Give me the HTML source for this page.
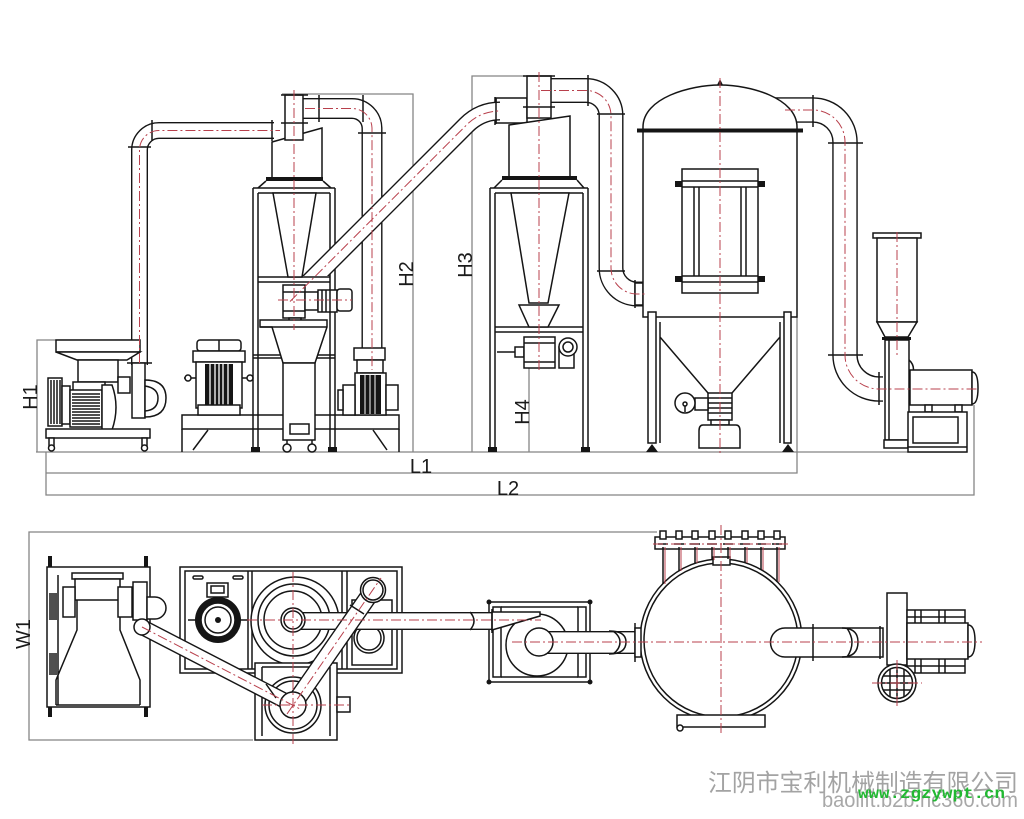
<!DOCTYPE html>
<html><head><meta charset="utf-8"><style>
html,body{margin:0;padding:0;background:#fff}
svg{display:block}
.k{fill:none;stroke:#151515;stroke-width:1.5}
.w{fill:#fff;stroke:#151515;stroke-width:1.5}
.b{fill:#151515;stroke:none}
.d{fill:none;stroke:#858585;stroke-width:1.3}
.c{fill:none;stroke:#b8404c;stroke-width:1;stroke-dasharray:10 3 2 3}
.t{font-family:"Liberation Sans",sans-serif;font-size:20px;fill:#1a1a1a}
</style></head><body>
<svg width="1024" height="819" viewBox="0 0 1024 819">
<defs><clipPath id="cp"><rect x="0" y="0" width="1024" height="276"/></clipPath></defs>
<rect width="1024" height="819" fill="#fff"/>

<!-- ============ DIMENSIONS ============ -->
<g class="d">
<path d="M140,340 H37 V452"/>
<path d="M282,94 H413 V452"/>
<path d="M525,76 H472 V452"/>
<path d="M529,368 V452"/>
<path d="M36,452 H967"/>
<path d="M46,452 V495 H974 V405"/>
<path d="M46,473 H797 V317"/>
<path d="M657,532 H29 V740 H253"/>
</g>

<!-- ============ ELEVATION PIPES ============ -->
<g fill="none">
<path d="M139.5,365 V150 A19.5 19.5 0 0 1 159,130.5 H274" stroke="#151515" stroke-width="17"/>
<path d="M139.5,365 V150 A19.5 19.5 0 0 1 159,130.5 H274" stroke="#fff" stroke-width="14.2"/>
<path d="M300,108.5 H352 A20 20 0 0 1 372,128.5 V350" stroke="#151515" stroke-width="21"/>
<path d="M300,108.5 H352 A20 20 0 0 1 372,128.5 V350" stroke="#fff" stroke-width="18.2"/>
<path d="M545,90.5 H586 A25 25 0 0 1 611,115.5 V268 A26 26 0 0 0 637,294 H643" stroke="#151515" stroke-width="25"/>
<path d="M545,90.5 H586 A25 25 0 0 1 611,115.5 V268 A26 26 0 0 0 637,294 H643" stroke="#fff" stroke-width="22.2"/>
<path d="M770,110 H813 A32 32 0 0 1 845,142 V355 A34 34 0 0 0 879,389 H883" stroke="#151515" stroke-width="25.5"/>
<path d="M770,110 H813 A32 32 0 0 1 845,142 V355 A34 34 0 0 0 879,389 H883" stroke="#fff" stroke-width="22.7"/>
</g>
<!-- pipe flanges -->
<g class="k" stroke-width="2.2">
<path d="M152,120 V141 M272,120 V141 M128,147 H151 M127,363 H152"/>
<path d="M319,95 V122 M363,95 V122 M358,133 H386"/>
<path d="M588,75 V106 M597,114 H625 M597,271 H625 M635,280 V308"/>
<path d="M813,95 V127 M828,143 H863 M828,355 H863 M879,372 V405"/>
</g>
<rect class="w" x="635" y="283" width="8" height="22"/>

<!-- ============ MACHINE 1 (left feeder mill) ============ -->
<g>
<rect class="w" x="56" y="340" width="84" height="12"/>
<path class="w" d="M56,352 L77,360 H127 L140,352 Z"/>
<rect class="w" x="78" y="360" width="40" height="22"/>
<rect class="w" x="73" y="382" width="32" height="9"/>
<rect class="w" x="48" y="378" width="14" height="48"/>
<path class="k" d="M51,380 V424 M54,380 V424 M57,380 V424 M60,380 V424"/>
<rect class="w" x="62" y="386" width="8" height="38"/>
<rect class="w" x="70" y="390" width="32" height="37"/>
<path class="k" d="M72,394 H100 M72,397 H100 M72,400 H100 M72,403 H100 M72,406 H100 M72,409 H100 M72,412 H100 M72,415 H100 M72,418 H100 M72,421 H100 M72,424 H100"/>
<path class="w" d="M102,385 H112 Q120,407 112,430 H102 Z"/>
<rect class="w" x="118" y="377" width="12" height="16"/>
<rect class="w" x="132" y="363" width="13" height="55"/>
<path class="w" d="M145,380 Q166,380 166,398 Q166,417 145,417 Z"/>
<path class="k" d="M145,386 Q158,388 158,398 Q158,410 145,411"/>
<rect class="w" x="46" y="429" width="104" height="9"/>
<rect class="w" x="49" y="438" width="5" height="8"/><rect class="w" x="142" y="438" width="5" height="8"/>
<circle class="w" cx="51.5" cy="448" r="3"/><circle class="w" cx="144.5" cy="448" r="3"/>
</g>

<!-- ============ MILL BASE + MOTOR ============ -->
<g>
<rect class="w" x="182" y="415" width="217" height="14"/>
<path class="k" d="M182,429 V452 M208,430 L193,450 M399,429 V452 M373,430 L387,450"/>
<rect class="w" x="197" y="340" width="44" height="11" rx="3"/>
<path class="k" d="M219,340 V351"/>
<rect class="w" x="193" y="351" width="52" height="11"/>
<rect class="w" x="196" y="362" width="46" height="46"/>
<rect class="b" x="205" y="364" width="28" height="41"/>
<path d="M210,364 V405 M215,364 V405 M219,364 V405 M223,364 V405 M228,364 V405" stroke="#fff" stroke-width="1.3"/>
<rect class="w" x="198" y="405" width="42" height="10"/>
<path class="k" d="M184,378 H196 M242,378 H253"/>
<circle class="w" cx="188" cy="378" r="3"/><circle class="w" cx="250" cy="378" r="3"/>
</g>

<!-- ============ CYCLONE 1 ============ -->
<g>
<path class="k" d="M253,188 V448 M258,193 V448 M330,193 V448 M335,188 V448 M253,188 H335 M258,193 H330 M258,277 H330 M258,282 H330"/>
<path class="k" d="M253,355 H335 M253,358 H335"/>
<rect class="b" x="251" y="447" width="9" height="5"/><rect class="b" x="328" y="447" width="9" height="5"/>
<path class="w" d="M273,193 H316 L302,277 H288 Z"/>
<path class="w" d="M272,142 L322,128 V179 H272 Z"/>
<rect class="w" x="285" y="95" width="18" height="45"/>
<path class="k" stroke-width="2.2" d="M281,95 H308 M281,123 H308"/>
<rect class="b" x="266" y="177" width="57" height="4"/>
<path class="k" d="M266,181 L258,188 M323,181 L331,188"/>
<!-- rotary valve -->
<rect class="w" x="283" y="285" width="22" height="33" stroke-width="2"/>
<path class="k" d="M283,292 H305 M283,311 H305"/>
<rect class="w" x="305" y="292" width="13" height="18"/>
<rect class="w" x="318" y="290" width="19" height="22"/>
<path class="k" d="M322,290 V312 M326,290 V312 M330,290 V312"/>
<rect class="w" x="337" y="289" width="15" height="22" rx="3"/>
<rect class="w" x="289" y="318" width="12" height="4"/>
<!-- hopper -->
<path class="w" d="M260,320 H327 V327 L315,363 H283 L272,327 H260 Z"/>
<path class="k" d="M260,327 H327"/>
<rect class="w" x="283" y="363" width="32" height="77"/>
<rect class="w" x="290" y="424" width="19" height="10"/>
<path class="k" d="M287,440 V445 M312,440 V445"/>
<circle class="w" cx="287" cy="448" r="4"/><circle class="w" cx="312" cy="448" r="4"/>
</g>

<!-- ============ BLOWER 2 ============ -->
<g>
<rect class="w" x="354" y="348" width="31" height="12"/>
<rect class="w" x="357" y="360" width="26" height="13"/>
<rect class="w" x="355" y="373" width="31" height="42"/>
<rect class="b" x="360" y="375" width="21" height="39"/>
<path d="M365,375 V414 M370,375 V414 M375,375 V414" stroke="#fff" stroke-width="1"/>
<rect class="w" x="343" y="385" width="12" height="30"/>
<rect class="w" x="338" y="390" width="5" height="20"/>
<rect class="w" x="386" y="385" width="12" height="25"/>
</g>

<!-- ============ CYCLONE 2 ============ -->
<g>
<path class="k" d="M490,188 V448 M495,193 V448 M583,193 V448 M588,188 V448 M490,188 H588 M495,193 H583 M495,327 H583 M495,332 H583"/>
<rect class="b" x="488" y="447" width="9" height="5"/><rect class="b" x="581" y="447" width="9" height="5"/>
<path class="w" d="M511,193 H569 L548,303 H529 Z"/>
<path class="w" d="M519,305 H559 L548,327 H529 Z"/>
<rect class="w" x="496" y="98" width="31" height="25"/>
<path class="w" d="M509,125 L570,116 V178 H509 Z"/>
<rect class="w" x="527" y="76" width="24" height="42"/>
<path class="k" stroke-width="2.2" d="M523,76 H555 M523,107 H555 M495,97 V125"/>
<rect class="b" x="502" y="176" width="75" height="4"/>
<path class="k" d="M502,180 L494,188 M577,180 L584,188"/>
<!-- valve -->
<path class="k" d="M497,352 H515"/>
<rect class="w" x="515" y="347" width="9" height="10"/>
<rect class="w" x="524" y="337" width="31" height="31" stroke-width="2.4"/>
<path class="k" d="M524,343 H555 M524,362 H555"/>
<rect class="w" x="559" y="347" width="15" height="21"/>
<circle class="w" cx="568" cy="347" r="9"/>
<circle class="k" cx="568" cy="347" r="5"/>
</g>

<!-- ============ BAG FILTER ============ -->
<g>
<path class="w" d="M643,317 V127 C643,98 690,85 720,85 C750,85 797,98 797,127 V317 Z"/>
<path class="b" d="M717,85 L720,79 L723,85 Z"/>
<rect class="b" x="637" y="128.5" width="166" height="4"/>
<rect class="w" x="682" y="169" width="76" height="124"/>
<path class="k" d="M682,181 H758 M682,187 H758 M682,276 H758 M682,282 H758 M694,187 V276 M699,187 V276 M741,187 V276 M746,187 V276"/>
<rect class="b" x="675" y="181" width="7" height="6"/><rect class="b" x="758" y="181" width="7" height="6"/>
<rect class="b" x="675" y="276" width="7" height="6"/><rect class="b" x="758" y="276" width="7" height="6"/>
<rect class="w" x="648" y="312" width="8" height="131"/>
<rect class="w" x="784" y="312" width="7" height="131"/>
<path class="k" d="M660,322 V443 M780,322 V443 M660,337 L708,393 M780,337 L732,393"/>
<path class="b" d="M646,452 L652,444 L658,452 Z M782,452 L788,444 L794,452 Z"/>
<rect class="w" x="708" y="393" width="24" height="27"/>
<path class="k" stroke-width="2" d="M708,398 H732 M708,403 H732 M708,408 H732 M708,413 H732"/>
<rect class="w" x="695" y="398" width="13" height="12"/>
<circle class="w" cx="685" cy="403" r="10"/>
<circle class="k" cx="685" cy="404" r="2"/>
<path class="k" d="M685,406 V412"/>
<rect class="w" x="711" y="420" width="18" height="5"/>
<path class="w" d="M703,425 Q699,425 699,431 V448 H740 V431 Q740,425 736,425 Z"/>
</g>

<!-- ============ FAN (elevation) ============ -->
<g>
<rect class="w" x="873" y="233" width="48" height="5"/>
<rect class="w" x="877" y="238" width="40" height="84"/>
<path class="w" d="M877,322 L885,337 H908 L917,322 Z"/>
<rect class="b" x="882" y="337" width="29" height="3"/>
<rect class="w" x="885" y="340" width="24" height="100"/>
<path class="k" d="M889,340 V440 M909,360 Q916,366 912,376"/>
<rect class="w" x="884" y="440" width="24" height="8"/>
<rect class="w" x="910" y="370" width="62" height="35"/>
<path class="w" d="M972,372 Q978,372 978,388 Q978,404 972,404 Z"/>
<rect class="w" x="925" y="405" width="7" height="7"/><rect class="w" x="955" y="405" width="7" height="7"/>
<rect class="w" x="908" y="412" width="59" height="40"/>
<rect class="k" x="913" y="417" width="45" height="26"/>
<path class="k" d="M908,447 H967"/>
</g>

<!-- inclined pipe (in front) -->
<g fill="none" clip-path="url(#cp)">
<path d="M298.5,293 L466.5,125 Q480.5,111 500,111" stroke="#151515" stroke-width="19"/>
<path d="M298.5,293 L466.5,125 Q480.5,111 500,111" stroke="#fff" stroke-width="16.2"/>
</g>
<path class="k" stroke-width="2.2" d="M496,98 V124"/>

<!-- elevation centerlines -->
<g class="c">
<path d="M139.5,363 V150 A19.5 19.5 0 0 1 159,130.5 H280"/>
<path d="M294,90 V330"/>
<path d="M305,108.5 H352 A20 20 0 0 1 372,128.5 V370"/>
<path d="M290,301.5 L466.5,125 Q480.5,111 500,111"/>
<path d="M278,300 H352"/>
<path d="M539,72 V372"/>
<path d="M541,90.5 H586 A25 25 0 0 1 611,115.5 V268 A26 26 0 0 0 637,294 H645"/>
<path d="M720,78 V456"/>
<path d="M785,110 H813 A32 32 0 0 1 845,142 V355 A34 34 0 0 0 879,389 H978"/>
<path d="M897,232 V356"/>
</g>

<!-- ============ PLAN VIEW ============ -->
<!-- machine 1 -->
<g>
<rect class="w" x="47" y="567" width="103" height="140"/>
<rect class="b" x="48" y="556" width="4" height="11"/><rect class="b" x="144" y="556" width="4" height="11"/>
<rect class="b" x="48" y="707" width="4" height="10"/><rect class="b" x="144" y="707" width="4" height="10"/>
<rect class="w" x="72" y="573" width="51" height="6"/>
<rect class="w" x="75" y="579" width="45" height="21"/>
<path class="k" d="M77,600 V630 L56,680 V705 M120,600 V630 L140,680 V705 M56,705 H140 M58,575 V705"/>
<rect class="w" x="63" y="587" width="12" height="30"/>
<rect class="w" x="118" y="587" width="14" height="30"/>
<rect class="w" x="133" y="582" width="14" height="38"/>
<path class="w" d="M147,597 H155 A11 11 0 0 1 155,619 H147 Z"/>
<path class="k" d="M50,593 V620 M52,593 V620 M54,593 V620 M56,593 V620 M50,653 V675 M52,653 V675 M54,653 V675 M56,653 V675"/>
</g>
<!-- mill plate -->
<g>
<rect class="w" x="180" y="567" width="222" height="106" stroke-width="2"/>
<rect class="k" x="185" y="571" width="212" height="98"/>
<path class="k" d="M248,571 V669 M252,571 V669 M342,571 V669 M347,571 V669"/>
<rect class="k" x="193" y="576" width="10" height="3" rx="1.5"/><rect class="k" x="233" y="576" width="10" height="3" rx="1.5"/>
<rect class="w" x="207" y="583" width="21" height="14"/>
<rect class="k" x="211" y="586" width="13" height="7"/>
<path class="k" d="M188,620 H196 M240,620 H248"/>
<circle cx="218" cy="620" r="23" fill="#151515"/>
<circle class="w" cx="218" cy="620" r="17"/>
<circle class="k" cx="218" cy="620" r="13"/>
<circle class="b" cx="218" cy="620" r="3"/>
<circle class="w" cx="295" cy="621" r="44"/>
<circle class="k" cx="294" cy="620" r="36"/>
<circle class="k" cx="293" cy="620" r="29"/>
<rect class="k" x="352" y="600" width="40" height="65"/>
<circle class="w" cx="369" cy="638" r="15"/>
<circle class="k" cx="369" cy="638" r="12"/>
</g>
<!-- cyclone 1 plan -->
<g>
<rect class="w" x="255" y="663" width="82" height="77" stroke-width="2"/>
<path class="k" d="M262,667 V736 M330,667 V736 M262,667 H330"/>
<circle class="w" cx="293" cy="705" r="28"/>
<circle class="k" cx="293" cy="705" r="24"/>
<rect class="w" x="337" y="697" width="13" height="15"/>
</g>
<!-- cyclone 2 plan -->
<g>
<rect class="w" x="489" y="602" width="101" height="80"/>
<rect class="k" x="493" y="607" width="8" height="70"/><rect class="k" x="578" y="607" width="8" height="70"/>
<path class="k" d="M501,607 H578 M501,677 H578"/>
<circle class="b" cx="489" cy="602" r="2.5"/><circle class="b" cx="590" cy="602" r="2.5"/>
<circle class="b" cx="489" cy="682" r="2.5"/><circle class="b" cx="590" cy="682" r="2.5"/>
<circle class="w" cx="537" cy="645" r="31"/>
</g>
<!-- bag filter plan -->
<g>
<rect class="w" x="655" y="537" width="130" height="12"/>
<circle class="w" cx="721" cy="640" r="81"/>
<circle class="k" cx="721" cy="640" r="77"/>
<rect class="w" x="713" y="557" width="17" height="8"/>
<rect class="w" x="677" y="715" width="88" height="12"/>
<circle class="w" cx="680" cy="728" r="3"/>
<g class="k">
<path d="M663,547 V584 M679,547 V571 M695,547 V563 M712,547 V560 M728,547 V559 M745,547 V563 M761,547 V570 M777,547 V582"/>
</g>
<g stroke="#b8404c" stroke-width="1">
<path d="M665,547 V584 M681,547 V571 M697,547 V563 M714,547 V560 M730,547 V559 M747,547 V563 M763,547 V570 M779,547 V582"/>
</g>
<g>
<rect class="w" x="660" y="531" width="6" height="8"/><rect class="w" x="676" y="531" width="6" height="8"/>
<rect class="w" x="692" y="531" width="6" height="8"/><rect class="w" x="709" y="531" width="6" height="8"/>
<rect class="w" x="725" y="531" width="6" height="8"/><rect class="w" x="742" y="531" width="6" height="8"/>
<rect class="w" x="758" y="531" width="6" height="8"/><rect class="w" x="774" y="531" width="6" height="8"/>
</g>
<path class="k" stroke-width="2" d="M658,544 H668 M674,544 H684 M690,544 H700 M707,544 H717 M723,544 H733 M740,544 H750 M756,544 H766 M772,544 H782"/>
</g>

<!-- plan pipes -->
<g fill="none">
<path d="M296,621 H492" stroke="#151515" stroke-width="18"/>
<path d="M296,621 H492" stroke="#fff" stroke-width="15.2"/>
<path d="M142,627 L293,705" stroke="#151515" stroke-width="16"/>
<path d="M142,627 L293,705" stroke="#fff" stroke-width="13.2"/>
<path d="M293,705 L373,590" stroke="#151515" stroke-width="18"/>
<path d="M293,705 L373,590" stroke="#fff" stroke-width="15.2"/>
<path d="M539,642.5 H635" stroke="#151515" stroke-width="23"/>
<path d="M539,642.5 H635" stroke="#fff" stroke-width="20.2"/>
</g>
<path class="w" d="M492,612 H540 V616 L492,630 Z"/>
<path class="k" d="M470,612 Q478,621 470,630"/>
<path class="k" stroke-width="2" d="M492,609 V633 M635,623 V662 M266,684 L276,698 M350,605 L364,614"/>
<rect class="w" x="635" y="628" width="6" height="29"/>
<path class="k" d="M609,631 Q626,631 626,642 Q626,654 609,654 M613,631 Q620,636 620,642 Q620,649 613,654"/>
<circle class="w" cx="142" cy="627" r="8"/>
<circle class="w" cx="293" cy="705" r="13"/>
<circle class="w" cx="373" cy="590" r="12.5"/>
<circle class="k" cx="373" cy="590" r="10"/>
<circle class="w" cx="293" cy="620" r="12"/>
<circle class="k" cx="293" cy="620" r="9"/>
<circle class="w" cx="539" cy="642" r="14"/>
<!-- filter to fan pipe -->
<path class="w" d="M785,628 H883 V657 H785 A14.5 14.5 0 0 1 785,628 Z"/>
<path class="k" stroke-width="2" d="M813,624 V661 M880,626 V659"/>
<path class="k" d="M842,628 Q858,628 858,642 Q858,657 842,657 M847,628 Q852,636 852,642 Q852,650 847,657"/>
<!-- fan plan -->
<g>
<rect class="w" x="887" y="593" width="20" height="72"/>
<rect class="w" x="907" y="610" width="58" height="63"/>
<rect class="w" x="907" y="623" width="61" height="36"/>
<path class="w" d="M968,625 Q975,625 975,641 Q975,657 968,657 Z"/>
<path class="k" d="M915,610 V623 M921,610 V623 M939,610 V623 M945,610 V623 M915,659 V673 M921,659 V673 M939,659 V673 M945,659 V673 M907,617 H965 M907,666 H965"/>
<circle class="w" cx="897" cy="683" r="19"/>
<circle class="k" cx="897" cy="683" r="15.5"/>
<path class="k" stroke-width="2" d="M890,669 V697 M897,668 V698 M904,669 V697 M883,676 H911 M882,683 H912 M883,690 H911"/>
</g>

<!-- plan centerlines -->
<g class="c">
<path d="M247,620 H541"/>
<path d="M293,572 V746"/>
<path d="M142,627 L300,709"/>
<path d="M287,714 L381,578"/>
<path d="M262,705 H352"/>
<path d="M512,642 H982"/>
<path d="M721,525 V735"/>
<path d="M653,544 H788"/>
<path d="M897,660 V708 M872,683 H922"/>
</g>

<!-- ============ LABELS ============ -->
<text class="t" text-anchor="middle" transform="translate(37,397) rotate(-90)">H1</text>
<text class="t" text-anchor="middle" transform="translate(413,274) rotate(-90)">H2</text>
<text class="t" text-anchor="middle" transform="translate(472,265) rotate(-90)">H3</text>
<text class="t" text-anchor="middle" transform="translate(529,412) rotate(-90)">H4</text>
<text class="t" text-anchor="middle" transform="translate(30,634) rotate(-90)">W1</text>
<text class="t" text-anchor="middle" x="421" y="473">L1</text>
<text class="t" text-anchor="middle" x="508" y="495">L2</text>

<!-- watermark -->
<text x="708" y="791" font-size="24" fill="#a3a3a3" font-family="'Liberation Sans','Noto Sans CJK SC',sans-serif" textLength="310" lengthAdjust="spacingAndGlyphs">江阴市宝利机械制造有限公司</text>
<text x="822" y="807" font-size="21" fill="#a8a8a8" font-family="'Liberation Sans',sans-serif" textLength="196" lengthAdjust="spacingAndGlyphs">baolift.b2b.hc360.com</text>
<text x="858" y="798" font-size="16" font-weight="bold" fill="#22b832" font-family="'Liberation Mono',monospace" textLength="147" lengthAdjust="spacingAndGlyphs">www.zgzywpt.cn</text>
</svg>
</body></html>
